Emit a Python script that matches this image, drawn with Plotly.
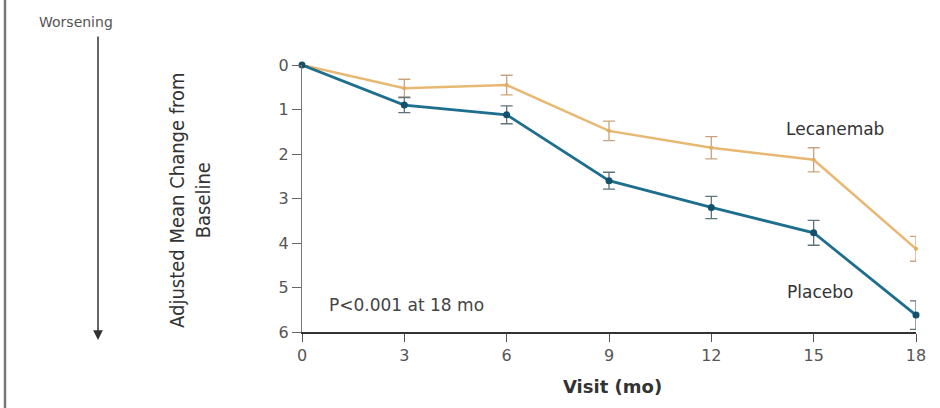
import plotly.graph_objects as go

visits = [0, 3, 6, 9, 12, 15, 18]
lecanemab = [0, 0.52, 0.45, 1.48, 1.86, 2.13, 4.13]
lecanemab_err = [0, 0.2, 0.22, 0.22, 0.25, 0.27, 0.28]
placebo = [0, 0.9, 1.12, 2.6, 3.2, 3.77, 5.62]
placebo_err = [0, 0.17, 0.2, 0.19, 0.25, 0.28, 0.32]
y_ticks = [0, 1, 2, 3, 4, 5, 6]

L, R, T, B = 302, 24, 65, 76
W, H = 940, 408
pw, ph = W - L - R, H - T - B

def px(x):
    return (x - L) / pw

def py(y):
    return (H - B - y) / ph

fig = go.Figure()
fig.add_trace(go.Scatter(
    x=visits, y=lecanemab, mode="lines+markers",
    line=dict(color="#E8B873", width=2.5),
    marker=dict(size=4, color="#E0AC62"),
    error_y=dict(type="data", array=lecanemab_err, color="#C9A57E", thickness=1.3, width=6),
    cliponaxis=False, showlegend=False,
))
fig.add_trace(go.Scatter(
    x=visits, y=placebo, mode="lines+markers",
    line=dict(color="#1E6E8E", width=2.8),
    marker=dict(size=7, color="#12506C"),
    error_y=dict(type="data", array=placebo_err, color="#5F737D", thickness=1.3, width=6),
    cliponaxis=False, showlegend=False,
))

tickfont = dict(family="DejaVu Sans", size=16, color="#555555")
fig.update_layout(
    width=W, height=H,
    margin=dict(l=L, r=R, t=T, b=B),
    paper_bgcolor="white", plot_bgcolor="white",
    xaxis=dict(range=[0, 18], tickvals=visits, ticks="outside", ticklen=8,
               tickcolor="#555", showline=True, linecolor="#333", linewidth=2,
               showgrid=False, zeroline=False, tickfont=tickfont),
    yaxis=dict(range=[6, 0], tickvals=y_ticks, ticks="outside", ticklen=9,
               tickcolor="#666", showline=True, linecolor="#777", linewidth=1.2,
               showgrid=False, zeroline=False, tickfont=tickfont),
)

ann = [
    dict(text="Worsening", x=px(76), y=py(22), font=dict(family="DejaVu Sans", size=14, color="#555")),
    dict(text="Adjusted Mean Change from<br>Baseline", x=px(190), y=py(200), textangle=-90,
         font=dict(family="DejaVu Sans Condensed", size=20, color="#333")),
    dict(text="<b>Visit (mo)</b>", x=px(612), y=py(386),
         font=dict(family="DejaVu Sans", size=18, color="#333")),
    dict(text="Lecanemab", x=px(835), y=py(129),
         font=dict(family="DejaVu Sans", size=17, color="#333")),
    dict(text="Placebo", x=px(820), y=py(292),
         font=dict(family="DejaVu Sans", size=17, color="#333")),
    dict(text="P<0.001 at 18 mo", x=px(406), y=py(305),
         font=dict(family="DejaVu Sans", size=17, color="#444")),
]
for a in ann:
    fig.add_annotation(xref="paper", yref="paper", showarrow=False,
                       xanchor="center", yanchor="middle", **a)

fig.add_annotation(xref="paper", yref="paper", x=px(98), y=py(340),
                   ax=0, ay=-305, showarrow=True, arrowhead=2, arrowsize=1.3,
                   arrowwidth=1.5, arrowcolor="#333", text="")

fig.add_shape(type="line", xref="paper", yref="paper",
              x0=px(5), x1=px(5), y0=py(408), y1=py(0),
              line=dict(color="#777", width=2.5))

fig.write_html("out.html", config={"displayModeBar": False},
               post_script="document.body.style.margin='0';")
